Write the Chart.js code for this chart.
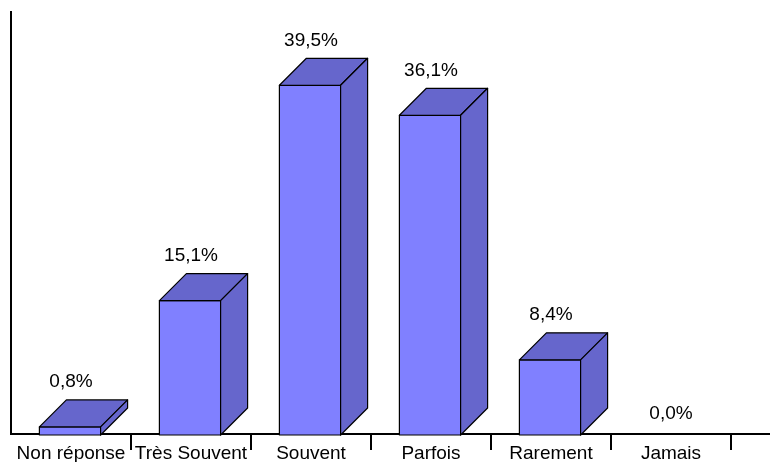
<!DOCTYPE html>
<html>
<head>
<meta charset="utf-8">
<script src="https://cdn.jsdelivr.net/npm/chart.js@4"></script>
<style>
  html, body { margin: 0; padding: 0; background: #fff; }
  #wrap { width: 770px; height: 462px; }
</style>
</head>
<body>
<div id="wrap"><canvas id="myChart"></canvas></div>
<script>
// données
const categories = ['Non réponse', 'Très Souvent', 'Souvent', 'Parfois', 'Rarement', 'Jamais'];
const percents = [0.8, 15.1, 39.5, 36.1, 8.4, 0.0];

const FONT = '"Liberation Sans", Arial, sans-serif';
const DEPTH = 27;
const FRONT = '#8080FF';
const SHADE = '#6666CC';

// dessine chaque barre en pseudo 3D à partir des positions calculées par Chart.js
const bars3d = {
  id: 'bars3d',
  afterDatasetsDraw(chart) {
    const ctx = chart.ctx;
    const meta = chart.getDatasetMeta(0);
    ctx.save();
    ctx.lineWidth = 1.2;
    ctx.strokeStyle = '#000';
    ctx.lineJoin = 'round';
    meta.data.forEach((bar, i) => {
      const v = percents[i];
      const w = bar.width;
      const x0 = bar.x - w / 2 - 1;
      const x1 = x0 + w;
      const top = bar.y;
      const base = bar.base + 1;
      if (v > 0) {
        // face avant
        ctx.fillStyle = FRONT;
        ctx.beginPath();
        ctx.rect(x0, top, w, base - top);
        ctx.fill();
        ctx.stroke();
        // dessus
        ctx.fillStyle = SHADE;
        ctx.beginPath();
        ctx.moveTo(x0, top);
        ctx.lineTo(x0 + DEPTH, top - DEPTH);
        ctx.lineTo(x1 + DEPTH, top - DEPTH);
        ctx.lineTo(x1, top);
        ctx.closePath();
        ctx.fill();
        ctx.stroke();
        // côté
        ctx.beginPath();
        ctx.moveTo(x1, top);
        ctx.lineTo(x1 + DEPTH, top - DEPTH);
        ctx.lineTo(x1 + DEPTH, base - DEPTH);
        ctx.lineTo(x1, base);
        ctx.closePath();
        ctx.fill();
        ctx.stroke();
      }
      // étiquette de valeur
      ctx.fillStyle = '#000';
      ctx.font = '19px ' + FONT;
      ctx.textAlign = 'center';
      ctx.textBaseline = 'middle';
      const label = v.toFixed(1).replace('.', ',') + '%';
      ctx.fillText(label, bar.x, v > 0 ? top - 45 : top - 20);
    });
    ctx.restore();
  },
  afterDraw(chart) {
    // prolongement de l'axe horizontal jusqu'au bord
    const ctx = chart.ctx;
    const a = chart.chartArea;
    ctx.save();
    ctx.strokeStyle = '#000';
    ctx.lineWidth = 2;
    ctx.beginPath();
    ctx.moveTo(a.right, a.bottom);
    ctx.lineTo(chart.width, a.bottom);
    ctx.stroke();
    ctx.restore();
  }
};

const ctx = document.getElementById('myChart').getContext('2d');
const myChart = new Chart(ctx, {
  type: 'bar',
  data: {
    labels: categories,
    datasets: [{
      data: percents,
      backgroundColor: 'rgba(0,0,0,0)',
      borderWidth: 0,
      categoryPercentage: 1,
      barPercentage: 0.51
    }]
  },
  options: {
    responsive: true,
    maintainAspectRatio: false,
    animation: false,
    layout: { padding: { left: 0, right: 39, top: 12, bottom: 0 } },
    plugins: {
      legend: { display: false },
      tooltip: { enabled: false }
    },
    scales: {
      x: {
        grid: {
          offset: true,
          drawOnChartArea: false,
          tickLength: 16,
          lineWidth: 2,
          color: (c) => c.index === 0 ? 'rgba(0,0,0,0)' : '#000'
        },
        border: { display: true, color: '#000', width: 2 },
        ticks: {
          color: '#000',
          font: { family: FONT, size: 19 },
          padding: -8,
          maxRotation: 0,
          autoSkip: false
        },
        afterFit(scale) { scale.height = 28; }
      },
      y: {
        min: 0,
        max: 47.8,
        grid: { display: false },
        border: { display: true, color: '#000', width: 2 },
        ticks: { display: false },
        afterFit(scale) { scale.width = 11; }
      }
    }
  },
  plugins: [bars3d]
});
</script>
</body>
</html>
